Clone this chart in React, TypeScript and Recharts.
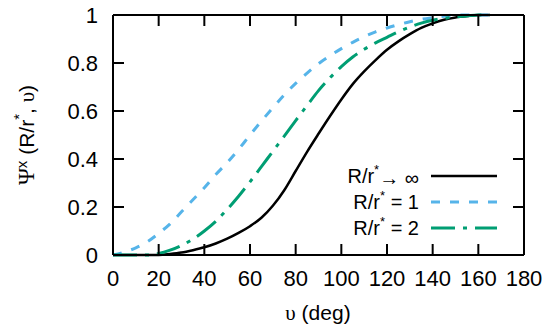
import { LineChart, Line, XAxis, YAxis, Legend } from "recharts";

// angle v (deg) and the three Psi^x curves
const angles = [
  0, 5, 10, 15, 20, 25, 30, 35, 40, 45, 50, 55, 60, 65, 70, 75, 80, 85, 90,
  95, 100, 105, 110, 115, 120, 125, 130, 135, 140, 145, 150, 155, 160, 165,
];
const psiInf = [
  0, 0, 0, 0, 0, 0.004, 0.01, 0.02, 0.032, 0.048, 0.068, 0.092, 0.12, 0.155,
  0.205, 0.27, 0.35, 0.43, 0.505, 0.578, 0.648, 0.712, 0.765, 0.812, 0.855,
  0.89, 0.92, 0.946, 0.965, 0.98, 0.99, 0.996, 1, 1,
];
const psiR1 = [
  0, 0.012, 0.03, 0.055, 0.09, 0.13, 0.18, 0.23, 0.28, 0.335, 0.385, 0.44,
  0.5, 0.558, 0.613, 0.667, 0.715, 0.758, 0.797, 0.83, 0.86, 0.886, 0.91,
  0.93, 0.946, 0.96, 0.972, 0.982, 0.989, 0.995, 1, 1, 1, 1,
];
const psiR2 = [
  0, 0, 0, 0, 0.006, 0.02, 0.04, 0.066, 0.1, 0.14, 0.19, 0.245, 0.305, 0.368,
  0.432, 0.495, 0.56, 0.623, 0.685, 0.738, 0.785, 0.825, 0.857, 0.884, 0.907,
  0.93, 0.95, 0.966, 0.978, 0.986, 0.992, 0.996, 1, 1,
];
const xTicks = [0, 20, 40, 60, 80, 100, 120, 140, 160, 180];
const yTicks = [0, 0.2, 0.4, 0.6, 0.8, 1];

const data = angles.map((a, i) => ({
  angle: a,
  inf: psiInf[i],
  r1: psiR1[i],
  r2: psiR2[i],
}));

const series = [
  { key: "inf", tail: "\u2192 \u221e", arrow: true, color: "#000000", dash: undefined, width: 2.5 },
  { key: "r1", tail: " = 1", arrow: false, color: "#56b4e9", dash: "9 10", width: 3 },
  { key: "r2", tail: " = 2", arrow: false, color: "#009e73", dash: "24 8 4 8", width: 3 },
];

const FONT = "'Liberation Sans', Arial, sans-serif";
const SERIF = "'Liberation Serif', 'DejaVu Serif', serif";
const TICK_FONT = 22;
const TICK_LEN = 11;
const X_GAP = 15;
const Y_GAP = 15;
const TICK_COLOR = "#000";
const frame = { stroke: "#000", strokeWidth: 2 };

// gnuplot-style ticks: drawn inward from the frame, label outside
const BottomTick = ({ x, y, payload }: any) => {
  const axisY = y - X_GAP;
  return (
    <g>
      <line x1={x} x2={x} y1={axisY} y2={axisY - TICK_LEN} stroke={TICK_COLOR} strokeWidth={2} />
      <text x={x} y={y} dy="0.71em" textAnchor="middle" fontSize={TICK_FONT} fontFamily={FONT} fill="#000">
        {payload.value}
      </text>
    </g>
  );
};

const LeftTick = ({ x, y, payload }: any) => {
  const axisX = x + Y_GAP;
  return (
    <g>
      <line x1={axisX} x2={axisX + TICK_LEN} y1={y} y2={y} stroke={TICK_COLOR} strokeWidth={2} />
      <text x={x} y={y} dy="0.355em" textAnchor="end" fontSize={TICK_FONT} fontFamily={FONT} fill="#000">
        {payload.value}
      </text>
    </g>
  );
};

const TopTick = ({ x, y }: any) => (
  <line x1={x} x2={x} y1={y} y2={y + TICK_LEN} stroke={TICK_COLOR} strokeWidth={2} />
);

const RightTick = ({ x, y }: any) => (
  <line x1={x} x2={x - TICK_LEN} y1={y} y2={y} stroke={TICK_COLOR} strokeWidth={2} />
);

const renderLegend = () => (
  <div style={{ fontFamily: FONT, fontSize: 20, color: "#000" }}>
    {series.map((s) => (
      <div key={s.key} style={{ display: "flex", alignItems: "center", height: 26 }}>
        <div style={{ width: 89, textAlign: "right", whiteSpace: "nowrap" }}>
          R/r
          <span style={{ fontSize: 13, position: "relative", top: -9 }}>*</span>
          {s.arrow ? (
            <span style={{ position: "relative", top: 2 }}>{s.tail}</span>
          ) : (
            s.tail
          )}
        </div>
        <svg width={66} height={26} style={{ marginLeft: 12 }}>
          <line
            x1={0}
            y1={13}
            x2={66}
            y2={13}
            stroke={s.color}
            strokeWidth={s.width}
            strokeDasharray={s.dash}
          />
        </svg>
      </div>
    ))}
  </div>
);

const XTitle = () => (
  <text x={318} y={320} textAnchor="middle" fontSize={21} fontFamily={FONT} fill="#000">
    <tspan fontFamily={SERIF}>{"\u03c5"}</tspan>
    <tspan> (deg)</tspan>
  </text>
);

const YTitle = () => (
  <text
    x={0}
    y={0}
    transform="translate(34,135) rotate(-90)"
    textAnchor="middle"
    fontSize={21}
    fontFamily={FONT}
    fill="#000"
  >
    <tspan fontFamily={SERIF} fontSize={23}>{"\u03a8"}</tspan>
    <tspan fontSize={15} dy={-7}>x</tspan>
    <tspan dy={7}> (R/r</tspan>
    <tspan fontSize={15} dy={-10}>*</tspan>
    <tspan dy={10}>, </tspan>
    <tspan fontFamily={SERIF}>{"\u03c5"}</tspan>
    <tspan>)</tspan>
  </text>
);

export default function App() {
  return (
    <div style={{ position: "absolute", left: 0, top: 0, width: 550, height: 330 }}>
      <LineChart width={550} height={330} data={data} margin={{ top: 0, right: 0, left: 0, bottom: 0 }}>
        <XAxis
          dataKey="angle"
          type="number"
          domain={[0, 180]}
          ticks={xTicks}
          height={75}
          axisLine={frame}
          tickLine={false}
          tickSize={0}
          tickMargin={X_GAP}
          tick={<BottomTick />}
          label={<XTitle />}
        />
        <XAxis
          xAxisId="top"
          orientation="top"
          dataKey="angle"
          type="number"
          domain={[0, 180]}
          ticks={xTicks}
          height={15}
          axisLine={frame}
          tickLine={false}
          tickSize={0}
          tickMargin={0}
          tick={<TopTick />}
        />
        <YAxis
          type="number"
          domain={[0, 1]}
          ticks={yTicks}
          width={113}
          axisLine={frame}
          tickLine={false}
          tickSize={0}
          tickMargin={Y_GAP}
          tick={<LeftTick />}
          label={<YTitle />}
        />
        <YAxis
          yAxisId="right"
          orientation="right"
          type="number"
          domain={[0, 1]}
          ticks={yTicks}
          width={26}
          axisLine={frame}
          tickLine={false}
          tickSize={0}
          tickMargin={0}
          tick={<RightTick />}
        />
        <Legend
          layout="horizontal"
          align="center"
          verticalAlign="middle"
          content={renderLegend}
          wrapperStyle={{ left: 330, top: 163, width: 180, height: 78 }}
        />
        {/* invisible copy bound to the mirror axes so their ticks get drawn */}
        <Line
          xAxisId="top"
          yAxisId="right"
          dataKey="inf"
          stroke="none"
          strokeWidth={0}
          dot={false}
          activeDot={false}
          legendType="none"
          isAnimationActive={false}
        />
        {series.map((s) => (
          <Line
            key={s.key}
            type="monotone"
            dataKey={s.key}
            stroke={s.color}
            strokeWidth={s.width}
            strokeDasharray={s.dash}
            dot={false}
            activeDot={false}
            isAnimationActive={false}
          />
        ))}
      </LineChart>
    </div>
  );
}
